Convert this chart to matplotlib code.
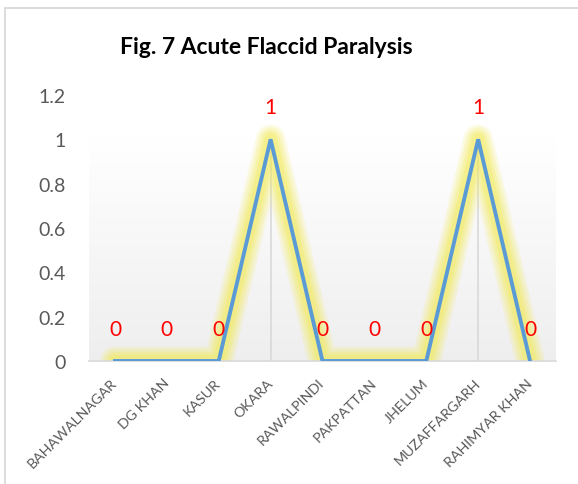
import numpy as np
import matplotlib.pyplot as plt
from matplotlib.patches import Rectangle

# data
districts = ['BAHAWALNAGAR', 'DG KHAN', 'KASUR', 'OKARA', 'RAWALPINDI',
             'PAKPATTAN', 'JHELUM', 'MUZAFFARGARH', 'RAHIMYAR KHAN']
cases = [0, 0, 0, 1, 0, 0, 0, 1, 0]
yticks = [0, 0.2, 0.4, 0.6, 0.8, 1, 1.2]
ytick_labels = ['0', '0.2', '0.4', '0.6', '0.8', '1', '1.2']

plt.rcParams['font.family'] = ['Lato', 'DejaVu Sans']

W, H = 578, 485
fig = plt.figure(figsize=(W / 100, H / 100), dpi=100)
ax = fig.add_axes([89 / W, 1 - 362 / H, (556 - 89) / W, (362 - 96) / H])

x = np.arange(len(districts))
xmin, xmax = -0.5, len(districts) - 0.5

# plot-area gradient (white top -> light gray bottom)
grad = np.concatenate([np.ones(40), np.linspace(1.0, 0.935, 216)]).reshape(-1, 1)
ax.imshow(np.dstack([grad, grad, grad]), extent=[xmin, xmax, 0, 1.2],
          aspect='auto', zorder=0, interpolation='bilinear')
ax.set_xlim(xmin, xmax)
ax.set_ylim(0, 1.2)

# drop lines
ax.vlines(x, 0, cases, color='#d9d9d9', linewidth=1.2, zorder=1)

# soft yellow glow
for lw, a in [(21, 0.16), (17, 0.2), (13, 0.25), (9, 0.3)]:
    ax.plot(x, cases, color='#f2ea50', linewidth=lw, alpha=a,
            solid_capstyle='round', solid_joinstyle='round', zorder=2)
ax.plot(x, cases, color='#5b9bd5', linewidth=2.8, solid_joinstyle='miter',
        zorder=3)

for xi, v in zip(x, cases):
    ax.annotate(str(v), (xi, v), xytext=(0, 23), textcoords='offset points',
                ha='center', va='center', color='#ff0000', fontsize=15,
                zorder=4)

for s in ['top', 'right', 'left']:
    ax.spines[s].set_visible(False)
ax.spines['bottom'].set_color('#d9d9d9')
ax.spines['bottom'].set_linewidth(1.2)

ax.set_yticks(yticks)
ax.set_yticklabels(ytick_labels, fontsize=14, color='#595959')
ax.tick_params(axis='y', length=0, pad=17)
ax.set_xticks(x)
ax.set_xticklabels(districts, rotation=45, ha='right', va='center',
                   rotation_mode='anchor', fontsize=10.3, color='#595959')
ax.tick_params(axis='x', length=0, pad=14)

fig.text(266.5 / W, 1 - 47 / H, 'Fig. 7 Acute Flaccid Paralysis', ha='center',
         va='center', fontsize=16.5, fontweight='bold', color='#000000')

# chart border
fig.patches.append(Rectangle((4.5 / W, -0.1), 1.2, 1 - 8.5 / H + 0.1,
                             transform=fig.transFigure, fill=False,
                             edgecolor='#d9d9d9', linewidth=1.3))

fig.savefig('out.png', dpi=100)
